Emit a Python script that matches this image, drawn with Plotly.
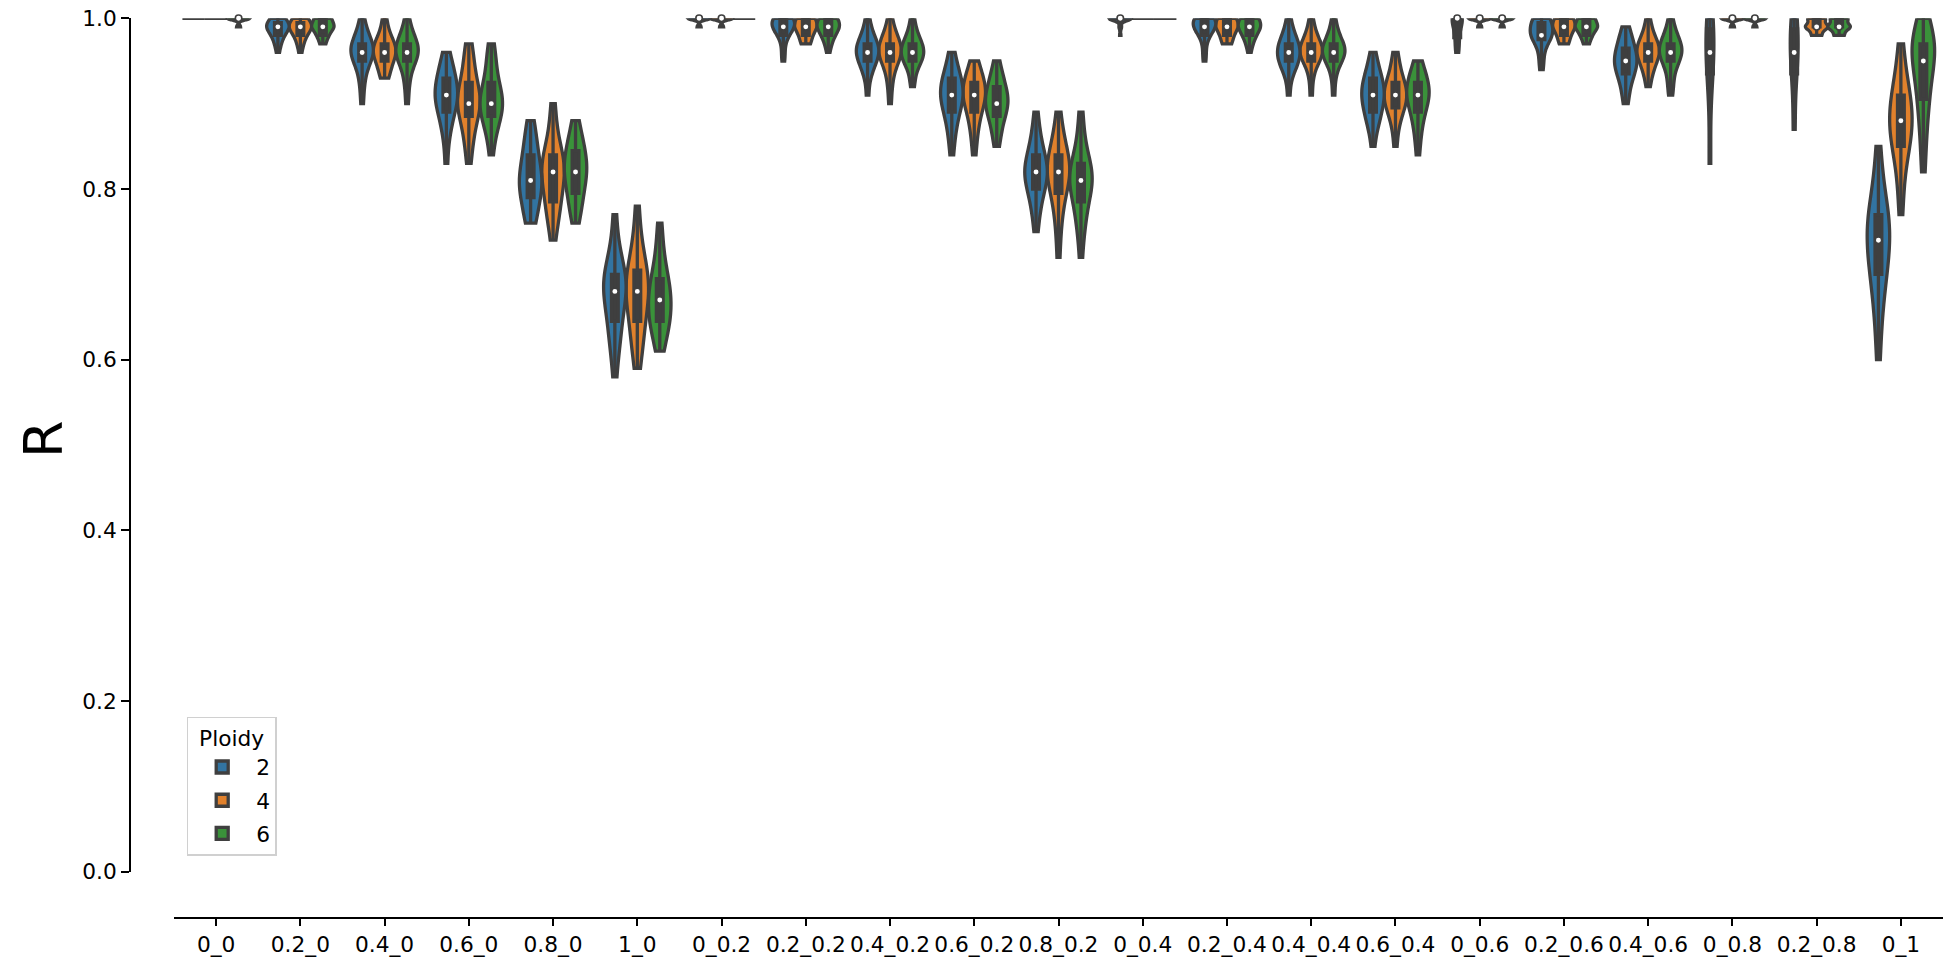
import numpy as np
import plotly.graph_objects as go

# ---------------- data ----------------
categories = ["0_0", "0.2_0", "0.4_0", "0.6_0", "0.8_0", "1_0",
              "0_0.2", "0.2_0.2", "0.4_0.2", "0.6_0.2", "0.8_0.2",
              "0_0.4", "0.2_0.4", "0.4_0.4", "0.6_0.4",
              "0_0.6", "0.2_0.6", "0.4_0.6", "0_0.8", "0.2_0.8", "0_1"]
ploidy_levels = ["2", "4", "6"]
y_tick_values = [0.0, 0.2, 0.4, 0.6, 0.8, 1.0]

# R samples per category, Ploidy 2
r_ploidy2 = [
    [1.0, 1.0, 1.0, 1.0, 1.0, 1.0, 1.0, 1.0, 1.0, 1.0, 1.0, 1.0, 1.0, 1.0, 1.0, 1.0, 1.0, 1.0, 1.0, 1.0],
    [0.96, 0.97, 0.97, 0.98, 0.98, 0.98, 0.98, 0.99, 0.99, 0.99, 0.99, 0.99, 0.99, 0.99, 0.99, 1.0, 1.0, 1.0, 1.0, 1.0],
    [0.90, 0.92, 0.93, 0.94, 0.95, 0.95, 0.95, 0.96, 0.96, 0.96, 0.96, 0.96, 0.97, 0.97, 0.97, 0.97, 0.98, 0.98, 0.99, 1.0],
    [0.83, 0.86, 0.87, 0.88, 0.89, 0.89, 0.90, 0.90, 0.91, 0.91, 0.91, 0.91, 0.92, 0.92, 0.93, 0.93, 0.94, 0.94, 0.95, 0.96],
    [0.76, 0.76, 0.77, 0.78, 0.79, 0.79, 0.80, 0.80, 0.81, 0.81, 0.81, 0.82, 0.82, 0.83, 0.84, 0.84, 0.85, 0.86, 0.87, 0.88],
    [0.58, 0.61, 0.62, 0.63, 0.64, 0.65, 0.66, 0.67, 0.67, 0.68, 0.68, 0.69, 0.69, 0.70, 0.70, 0.70, 0.71, 0.72, 0.74, 0.77],
    [0.99, 0.99, 0.99, 1.0, 1.0, 1.0, 1.0, 1.0, 1.0, 1.0, 1.0, 1.0, 1.0, 1.0, 1.0, 1.0, 1.0, 1.0, 1.0, 1.0],
    [0.95, 0.96, 0.97, 0.98, 0.98, 0.98, 0.99, 0.99, 0.99, 0.99, 0.99, 0.99, 0.99, 1.0, 1.0, 1.0, 1.0, 1.0, 1.0, 1.0],
    [0.91, 0.93, 0.94, 0.94, 0.95, 0.95, 0.95, 0.96, 0.96, 0.96, 0.96, 0.96, 0.97, 0.97, 0.97, 0.97, 0.98, 0.98, 0.99, 1.0],
    [0.84, 0.86, 0.87, 0.88, 0.89, 0.89, 0.90, 0.90, 0.91, 0.91, 0.91, 0.91, 0.92, 0.92, 0.93, 0.93, 0.93, 0.94, 0.95, 0.96],
    [0.75, 0.77, 0.78, 0.79, 0.80, 0.80, 0.81, 0.81, 0.82, 0.82, 0.82, 0.82, 0.83, 0.83, 0.84, 0.84, 0.85, 0.86, 0.87, 0.89],
    [0.98, 0.99, 0.99, 1.0, 1.0, 1.0, 1.0, 1.0, 1.0, 1.0, 1.0, 1.0, 1.0, 1.0, 1.0, 1.0, 1.0, 1.0, 1.0, 1.0],
    [0.95, 0.96, 0.97, 0.98, 0.98, 0.98, 0.99, 0.99, 0.99, 0.99, 0.99, 0.99, 0.99, 1.0, 1.0, 1.0, 1.0, 1.0, 1.0, 1.0],
    [0.91, 0.93, 0.94, 0.94, 0.95, 0.95, 0.95, 0.95, 0.96, 0.96, 0.96, 0.96, 0.97, 0.97, 0.97, 0.97, 0.98, 0.98, 0.99, 1.0],
    [0.85, 0.87, 0.88, 0.88, 0.89, 0.89, 0.90, 0.90, 0.91, 0.91, 0.91, 0.91, 0.92, 0.92, 0.93, 0.93, 0.93, 0.94, 0.95, 0.96],
    [0.96, 0.97, 0.98, 0.99, 1.0, 1.0, 1.0, 1.0, 1.0],
    [0.94, 0.95, 0.96, 0.97, 0.97, 0.98, 0.98, 0.98, 0.98, 0.98, 0.98, 0.99, 0.99, 0.99, 0.99, 1.0, 1.0, 1.0, 1.0, 1.0],
    [0.90, 0.91, 0.92, 0.93, 0.93, 0.94, 0.94, 0.94, 0.95, 0.95, 0.95, 0.95, 0.96, 0.96, 0.96, 0.97, 0.97, 0.98, 0.98, 0.99],
    [0.83, 0.93, 0.95, 0.96, 0.98, 0.99, 1.0],
    [0.87, 0.93, 0.95, 0.96, 0.98, 0.99, 1.0],
    [0.60, 0.64, 0.66, 0.68, 0.70, 0.70, 0.71, 0.72, 0.73, 0.74, 0.74, 0.75, 0.76, 0.76, 0.77, 0.77, 0.78, 0.80, 0.82, 0.85],
]

# R samples per category, Ploidy 4
r_ploidy4 = [
    [1.0, 1.0, 1.0, 1.0, 1.0, 1.0, 1.0, 1.0, 1.0, 1.0, 1.0, 1.0, 1.0, 1.0, 1.0, 1.0, 1.0, 1.0, 1.0, 1.0],
    [0.96, 0.97, 0.97, 0.98, 0.98, 0.98, 0.98, 0.99, 0.99, 0.99, 0.99, 0.99, 0.99, 0.99, 0.99, 1.0, 1.0, 1.0, 1.0, 1.0],
    [0.93, 0.93, 0.94, 0.94, 0.95, 0.95, 0.95, 0.96, 0.96, 0.96, 0.96, 0.96, 0.97, 0.97, 0.97, 0.97, 0.98, 0.98, 0.99, 1.0],
    [0.83, 0.85, 0.86, 0.87, 0.88, 0.89, 0.89, 0.90, 0.90, 0.90, 0.90, 0.91, 0.91, 0.92, 0.92, 0.93, 0.94, 0.95, 0.96, 0.97],
    [0.74, 0.76, 0.77, 0.78, 0.78, 0.79, 0.80, 0.81, 0.81, 0.82, 0.82, 0.82, 0.83, 0.83, 0.84, 0.84, 0.85, 0.86, 0.88, 0.90],
    [0.59, 0.61, 0.62, 0.63, 0.64, 0.65, 0.66, 0.67, 0.67, 0.68, 0.68, 0.69, 0.69, 0.70, 0.70, 0.71, 0.72, 0.73, 0.75, 0.78],
    [0.99, 0.99, 0.99, 1.0, 1.0, 1.0, 1.0, 1.0, 1.0, 1.0, 1.0, 1.0, 1.0, 1.0, 1.0, 1.0, 1.0, 1.0, 1.0, 1.0],
    [0.97, 0.97, 0.97, 0.98, 0.98, 0.98, 0.98, 0.99, 0.99, 0.99, 0.99, 0.99, 0.99, 0.99, 1.0, 1.0, 1.0, 1.0, 1.0, 1.0],
    [0.90, 0.92, 0.93, 0.94, 0.95, 0.95, 0.95, 0.96, 0.96, 0.96, 0.96, 0.96, 0.97, 0.97, 0.97, 0.97, 0.98, 0.98, 0.99, 1.0],
    [0.84, 0.86, 0.87, 0.88, 0.89, 0.89, 0.90, 0.90, 0.91, 0.91, 0.91, 0.91, 0.92, 0.92, 0.92, 0.93, 0.93, 0.94, 0.94, 0.95],
    [0.72, 0.75, 0.77, 0.78, 0.79, 0.80, 0.81, 0.81, 0.82, 0.82, 0.82, 0.82, 0.83, 0.83, 0.84, 0.84, 0.85, 0.86, 0.87, 0.89],
    [1.0, 1.0, 1.0, 1.0, 1.0, 1.0, 1.0, 1.0, 1.0, 1.0, 1.0, 1.0, 1.0, 1.0, 1.0, 1.0, 1.0, 1.0, 1.0, 1.0],
    [0.97, 0.97, 0.97, 0.98, 0.98, 0.98, 0.98, 0.99, 0.99, 0.99, 0.99, 0.99, 0.99, 0.99, 1.0, 1.0, 1.0, 1.0, 1.0, 1.0],
    [0.91, 0.93, 0.94, 0.95, 0.95, 0.95, 0.96, 0.96, 0.96, 0.96, 0.96, 0.96, 0.97, 0.97, 0.97, 0.97, 0.98, 0.98, 0.99, 1.0],
    [0.85, 0.87, 0.88, 0.89, 0.89, 0.90, 0.90, 0.90, 0.91, 0.91, 0.91, 0.91, 0.92, 0.92, 0.92, 0.93, 0.93, 0.94, 0.95, 0.96],
    [0.99, 0.99, 0.99, 1.0, 1.0, 1.0, 1.0, 1.0, 1.0, 1.0, 1.0, 1.0, 1.0, 1.0, 1.0, 1.0, 1.0, 1.0, 1.0, 1.0],
    [0.97, 0.97, 0.97, 0.98, 0.98, 0.98, 0.98, 0.99, 0.99, 0.99, 0.99, 0.99, 0.99, 0.99, 1.0, 1.0, 1.0, 1.0, 1.0, 1.0],
    [0.92, 0.93, 0.94, 0.94, 0.95, 0.95, 0.95, 0.96, 0.96, 0.96, 0.96, 0.96, 0.97, 0.97, 0.97, 0.97, 0.98, 0.98, 0.99, 1.0],
    [0.99, 0.99, 0.99, 1.0, 1.0, 1.0, 1.0, 1.0, 1.0, 1.0, 1.0, 1.0, 1.0, 1.0, 1.0, 1.0, 1.0, 1.0, 1.0, 1.0],
    [0.98, 0.98, 0.98, 0.98, 0.99, 0.99, 0.99, 0.99, 0.99, 0.99, 0.99, 0.99, 0.99, 1.0, 1.0, 1.0, 1.0, 1.0, 1.0, 1.0],
    [0.77, 0.80, 0.82, 0.84, 0.85, 0.85, 0.86, 0.87, 0.87, 0.88, 0.88, 0.89, 0.89, 0.90, 0.91, 0.91, 0.92, 0.93, 0.95, 0.97],
]

# R samples per category, Ploidy 6
r_ploidy6 = [
    [0.99, 0.99, 0.99, 1.0, 1.0, 1.0, 1.0, 1.0, 1.0, 1.0, 1.0, 1.0, 1.0, 1.0, 1.0, 1.0, 1.0, 1.0, 1.0, 1.0],
    [0.97, 0.97, 0.98, 0.98, 0.98, 0.98, 0.99, 0.99, 0.99, 0.99, 0.99, 0.99, 0.99, 0.99, 1.0, 1.0, 1.0, 1.0, 1.0, 1.0],
    [0.90, 0.92, 0.93, 0.94, 0.95, 0.95, 0.95, 0.96, 0.96, 0.96, 0.96, 0.96, 0.97, 0.97, 0.97, 0.97, 0.98, 0.98, 0.99, 1.0],
    [0.84, 0.86, 0.87, 0.88, 0.88, 0.89, 0.89, 0.90, 0.90, 0.90, 0.90, 0.91, 0.91, 0.92, 0.92, 0.93, 0.94, 0.95, 0.96, 0.97],
    [0.76, 0.77, 0.78, 0.79, 0.79, 0.80, 0.81, 0.81, 0.82, 0.82, 0.82, 0.83, 0.83, 0.84, 0.84, 0.85, 0.85, 0.86, 0.87, 0.88],
    [0.61, 0.62, 0.63, 0.64, 0.64, 0.65, 0.65, 0.66, 0.66, 0.67, 0.67, 0.68, 0.68, 0.69, 0.69, 0.70, 0.71, 0.72, 0.74, 0.76],
    [1.0, 1.0, 1.0, 1.0, 1.0, 1.0, 1.0, 1.0, 1.0, 1.0, 1.0, 1.0, 1.0, 1.0, 1.0, 1.0, 1.0, 1.0, 1.0, 1.0],
    [0.96, 0.97, 0.97, 0.98, 0.98, 0.98, 0.98, 0.99, 0.99, 0.99, 0.99, 0.99, 0.99, 0.99, 1.0, 1.0, 1.0, 1.0, 1.0, 1.0],
    [0.92, 0.93, 0.94, 0.95, 0.95, 0.95, 0.95, 0.96, 0.96, 0.96, 0.96, 0.96, 0.97, 0.97, 0.97, 0.97, 0.98, 0.98, 0.99, 1.0],
    [0.85, 0.86, 0.87, 0.88, 0.88, 0.89, 0.89, 0.90, 0.90, 0.90, 0.90, 0.91, 0.91, 0.91, 0.92, 0.92, 0.93, 0.93, 0.94, 0.95],
    [0.72, 0.75, 0.76, 0.77, 0.78, 0.79, 0.80, 0.80, 0.81, 0.81, 0.81, 0.81, 0.82, 0.82, 0.83, 0.83, 0.84, 0.85, 0.87, 0.89],
    [1.0, 1.0, 1.0, 1.0, 1.0, 1.0, 1.0, 1.0, 1.0, 1.0, 1.0, 1.0, 1.0, 1.0, 1.0, 1.0, 1.0, 1.0, 1.0, 1.0],
    [0.96, 0.97, 0.97, 0.98, 0.98, 0.98, 0.98, 0.99, 0.99, 0.99, 0.99, 0.99, 0.99, 0.99, 1.0, 1.0, 1.0, 1.0, 1.0, 1.0],
    [0.91, 0.93, 0.94, 0.95, 0.95, 0.95, 0.96, 0.96, 0.96, 0.96, 0.96, 0.96, 0.97, 0.97, 0.97, 0.97, 0.98, 0.98, 0.99, 1.0],
    [0.84, 0.86, 0.87, 0.88, 0.89, 0.89, 0.90, 0.90, 0.91, 0.91, 0.91, 0.91, 0.92, 0.92, 0.92, 0.93, 0.93, 0.94, 0.94, 0.95],
    [0.99, 0.99, 0.99, 1.0, 1.0, 1.0, 1.0, 1.0, 1.0, 1.0, 1.0, 1.0, 1.0, 1.0, 1.0, 1.0, 1.0, 1.0, 1.0, 1.0],
    [0.97, 0.97, 0.98, 0.98, 0.98, 0.98, 0.99, 0.99, 0.99, 0.99, 0.99, 0.99, 0.99, 0.99, 1.0, 1.0, 1.0, 1.0, 1.0, 1.0],
    [0.91, 0.92, 0.93, 0.94, 0.95, 0.95, 0.95, 0.96, 0.96, 0.96, 0.96, 0.96, 0.97, 0.97, 0.97, 0.97, 0.98, 0.98, 0.99, 1.0],
    [0.99, 0.99, 0.99, 1.0, 1.0, 1.0, 1.0, 1.0, 1.0, 1.0, 1.0, 1.0, 1.0, 1.0, 1.0, 1.0, 1.0, 1.0, 1.0, 1.0],
    [0.98, 0.98, 0.98, 0.98, 0.99, 0.99, 0.99, 0.99, 0.99, 0.99, 0.99, 0.99, 0.99, 1.0, 1.0, 1.0, 1.0, 1.0, 1.0, 1.0],
    [0.82, 0.85, 0.87, 0.89, 0.90, 0.91, 0.92, 0.93, 0.94, 0.95, 0.95, 0.96, 0.96, 0.97, 0.97, 0.97, 0.98, 0.98, 0.99, 1.0],
]

# ---------------- style ----------------
W, H = 1953, 963
FONT = "DejaVu Sans"
FS = 21.7
EDGE = "#3f3f3f"
hue_colors = {"2": "#3274a1", "4": "#e1812c", "6": "#3a923a"}
samples_by_hue = {"2": r_ploidy2, "4": r_ploidy4, "6": r_ploidy6}
axis_by_hue = {"2": "x2", "4": "x", "6": "x3"}
HUE_STEP = 0.8 / 3          # seaborn dodge step / violin width
BOX_W = 0.08                # inner box width (category units)
LW = 3.3

# pixel geometry of the reference
plot_left, plot_right = 174.0, 1943.0
plot_top, plot_bottom = 18.3, 871.8
yspine_x, xspine_y = 129.5, 918.0

xdom = [plot_left / W, plot_right / W]
ydom = [1 - plot_bottom / H, 1 - plot_top / H]

max_n = max(len(s) for h in ploidy_levels for s in samples_by_hue[h])

fig = go.Figure()

for hue in ploidy_levels:
    ax = axis_by_hue[hue]
    first = True
    for cat, s in zip(categories, samples_by_hue[hue]):
        s = np.asarray(s, dtype=float)
        kw = {}
        if s.max() > s.min():
            kw["bandwidth"] = float(np.std(s, ddof=1) * len(s) ** -0.2)
        fig.add_trace(go.Violin(
            x=[cat] * len(s), y=s, xaxis=ax, yaxis="y",
            width=HUE_STEP * len(s) / max_n,
            spanmode="hard", scalemode="width", scalegroup=f"{hue}|{cat}",
            fillcolor=hue_colors[hue], opacity=1,
            line=dict(color=EDGE, width=LW),
            points=False, box_visible=False, meanline_visible=False,
            name=hue, legendgroup=hue, showlegend=first, hoverinfo="skip",
            **kw))
        first = False

for hue in ploidy_levels:
    ax = axis_by_hue[hue]
    xs, ys, med = [], [], []
    for cat, s in zip(categories, samples_by_hue[hue]):
        s = np.asarray(s, dtype=float)
        if s.max() > s.min():          # single-valued groups are drawn as a flat line only
            xs += [cat] * len(s)
            ys += list(s)
            med.append(float(np.median(s)))
        else:
            med.append(None)
    fig.add_trace(go.Box(
        x=xs, y=ys, xaxis=ax, yaxis="y", width=BOX_W,
        fillcolor=EDGE, line=dict(color=EDGE, width=LW), whiskerwidth=0,
        boxpoints=False, quartilemethod="linear",
        showlegend=False, hoverinfo="skip", legendgroup=hue, name=hue))
    fig.add_trace(go.Scatter(
        x=categories, y=med, xaxis=ax, yaxis="y", mode="markers",
        marker=dict(color="white", size=6.5, line=dict(color=EDGE, width=1.6)),
        cliponaxis=False, showlegend=False, hoverinfo="skip", legendgroup=hue))

n = len(categories)
common_x = dict(type="category", categoryorder="array", categoryarray=categories,
                domain=xdom, showgrid=False, zeroline=False, automargin=False)
fig.update_layout(
    width=W, height=H,
    margin=dict(l=0, r=0, t=0, b=0, pad=0),
    paper_bgcolor="white", plot_bgcolor="white",
    font=dict(family=FONT, size=FS, color="black"),
    violinmode="overlay", boxmode="overlay",
    xaxis=dict(**common_x, range=[-0.5, n - 0.5], anchor="free", position=1 - xspine_y / H,
               showline=True, linecolor="black", linewidth=1.7,
               ticks="outside", ticklen=7.6, tickwidth=1.7, tickcolor="black",
               tickangle=0, tickfont=dict(family=FONT, size=FS, color="black")),
    xaxis2=dict(**common_x, overlaying="x", anchor="y", visible=False,
                range=[-0.5 + HUE_STEP, n - 0.5 + HUE_STEP]),
    xaxis3=dict(**common_x, overlaying="x", anchor="y", visible=False,
                range=[-0.5 - HUE_STEP, n - 0.5 - HUE_STEP]),
    yaxis=dict(domain=ydom, range=[0, 1], anchor="free", position=yspine_x / W,
               automargin=False,
               tickmode="array", tickvals=y_tick_values,
               ticktext=[f"{v:.1f}" for v in y_tick_values],
               showline=True, linecolor="black", linewidth=1.7,
               ticks="outside", ticklen=7.6, tickwidth=1.7, tickcolor="black",
               showgrid=False, zeroline=False,
               tickfont=dict(family=FONT, size=FS, color="black")),
    legend=dict(x=186.7 / W, y=1 - 716.7 / H, xanchor="left", yanchor="top",
                bgcolor="white", bordercolor="#d0d0d0", borderwidth=1.5,
                font=dict(family=FONT, size=FS, color="black"),
                title=dict(text="Ploidy", side="top center",
                           font=dict(family=FONT, size=FS, color="black")),
                itemwidth=58, tracegroupgap=2),
    annotations=[dict(text="R", x=43 / W, y=1 - 439 / H, xref="paper", yref="paper",
                      showarrow=False, textangle=-90, xanchor="center", yanchor="middle",
                      font=dict(family=FONT, size=54, color="black"))],
)

fig.write_html("out.html", config={"displayModeBar": False},
               post_script="document.body.style.margin='0px';")
